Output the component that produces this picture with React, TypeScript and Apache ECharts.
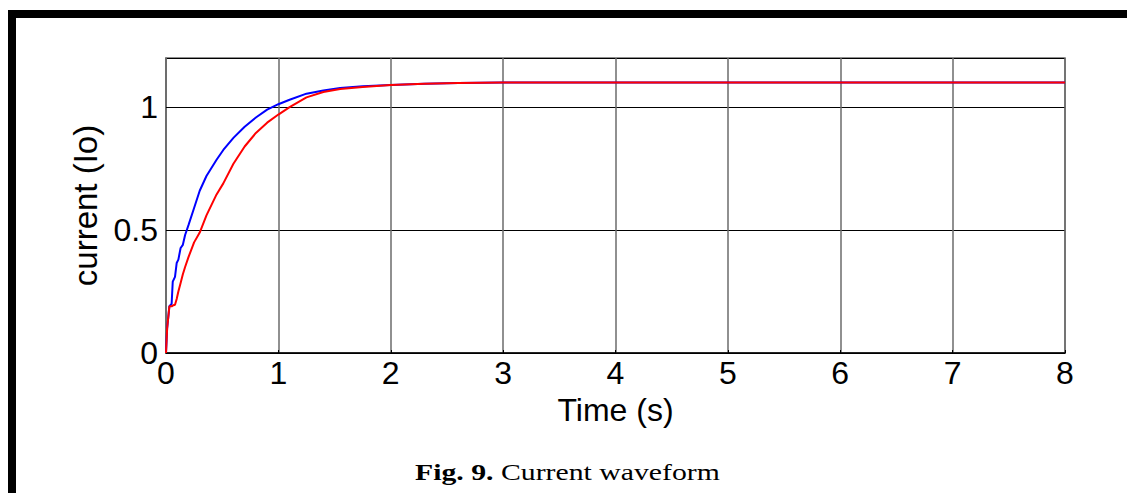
import React, { useEffect, useRef } from "react";
import * as echarts from "echarts";

const timeS: number[] = [0, 0.01, 0.03, 0.05, 0.06, 0.08, 0.095, 0.11, 0.13, 0.15, 0.17, 0.2, 0.25, 0.3, 0.36, 0.45, 0.51, 0.6, 0.7, 0.8, 0.9, 1.0, 1.1, 1.25, 1.4, 1.55, 1.75, 2.0, 2.3, 2.6, 3.0, 4, 5, 6, 7, 8];
const blueCurrent: number[] = [0, 0.1, 0.19, 0.2, 0.29, 0.31, 0.366, 0.38, 0.427, 0.44, 0.48, 0.52, 0.59, 0.66, 0.72, 0.786, 0.826, 0.875, 0.92, 0.958, 0.99, 1.012, 1.03, 1.055, 1.068, 1.078, 1.085, 1.09, 1.095, 1.098, 1.1, 1.1, 1.1, 1.1, 1.1, 1.1];
const redCurrent: number[] = [0, 0.1, 0.19, 0.19, 0.193, 0.196, 0.22, 0.25, 0.285, 0.32, 0.35, 0.39, 0.45, 0.49, 0.56, 0.645, 0.69, 0.77, 0.84, 0.895, 0.937, 0.97, 1.0, 1.04, 1.062, 1.074, 1.082, 1.09, 1.095, 1.098, 1.1, 1.1, 1.1, 1.1, 1.1, 1.1];
const xTicks: number[] = [0, 1, 2, 3, 4, 5, 6, 7, 8];
const yTicks: number[] = [0, 0.5, 1];
const xLabel = "Time (s)";
const yLabel = "current (Io)";
const captionBold = "Fig. 9.";
const captionText = "Current waveform";

export default function App() {
  const ref = useRef<HTMLDivElement>(null);
  useEffect(() => {
    if (!ref.current) return;
    const chart = echarts.init(ref.current, undefined, { renderer: "svg" });
    const sans = "'Liberation Sans', Arial, sans-serif";
    const serif = "'Liberation Serif', 'Times New Roman', serif";
    chart.setOption({
      animation: false,
      backgroundColor: "#fff",
      graphic: [
        { type: "rect", shape: { x: 8, y: 10, width: 1119, height: 8 }, style: { fill: "#000" } },
        { type: "rect", shape: { x: 8, y: 10, width: 8, height: 483 }, style: { fill: "#000" } },
        {
          type: "text",
          x: 415,
          y: 472,
          scaleX: 1.24,
          style: {
            text: `{b|${captionBold}\u00a0}{n|${captionText}}`,
            verticalAlign: "middle",
            align: "left",
            rich: {
              b: { fontFamily: serif, fontWeight: "bold", fontSize: 24, fill: "#000" },
              n: { fontFamily: serif, fontWeight: "normal", fontSize: 24, fill: "#000" },
            },
          },
        },
      ],
      grid: {
        left: 166,
        top: 58,
        right: 62,
        bottom: 140,
        show: true,
        borderColor: "#6b6b6b",
        borderWidth: 1.5,
      },
      xAxis: {
        type: "value",
        min: xTicks[0],
        max: xTicks[xTicks.length - 1],
        interval: 1,
        name: xLabel,
        nameLocation: "middle",
        nameGap: 38,
        nameTextStyle: { fontFamily: sans, fontSize: 32, color: "#000" },
        axisLine: { show: true, lineStyle: { color: "#000", width: 1.5 } },
        axisTick: { show: true, inside: true, length: 3, lineStyle: { color: "#000" } },
        axisLabel: { fontFamily: sans, fontSize: 32, color: "#000", margin: 4 },
        splitLine: { show: true, lineStyle: { color: "#6b6b6b", width: 1.5 } },
      },
      yAxis: {
        type: "value",
        min: 0,
        max: 1.2,
        interval: 0.5,
        name: yLabel,
        nameLocation: "middle",
        nameGap: 64,
        nameRotate: 90,
        nameTextStyle: { fontFamily: sans, fontSize: 33, color: "#000" },
        axisLine: { show: true, lineStyle: { color: "#6b6b6b", width: 1.5 } },
        axisTick: { show: true, inside: true, length: 3, lineStyle: { color: "#000" } },
        axisLabel: {
          fontFamily: sans,
          fontSize: 32,
          color: "#000",
          margin: 8,
          showMaxLabel: false,
          formatter: (v: number) => (yTicks.includes(v) ? String(v) : ""),
        },
        splitLine: { show: true, lineStyle: { color: "#000", width: 1 } },
      },
      series: [
        {
          type: "line",
          name: "blue",
          data: timeS.map((t, i) => [t, blueCurrent[i]]),
          showSymbol: false,
          lineStyle: { color: "#0000ff", width: 2 },
          itemStyle: { color: "#0000ff" },
        },
        {
          type: "line",
          name: "red",
          data: timeS.map((t, i) => [t, redCurrent[i]]),
          showSymbol: false,
          lineStyle: { color: "#ff0000", width: 2 },
          itemStyle: { color: "#ff0000" },
        },
      ],
    });
    return () => chart.dispose();
  }, []);
  return <div ref={ref} style={{ position: "fixed", left: 0, top: 0, width: 1127, height: 493 }} />;
}
